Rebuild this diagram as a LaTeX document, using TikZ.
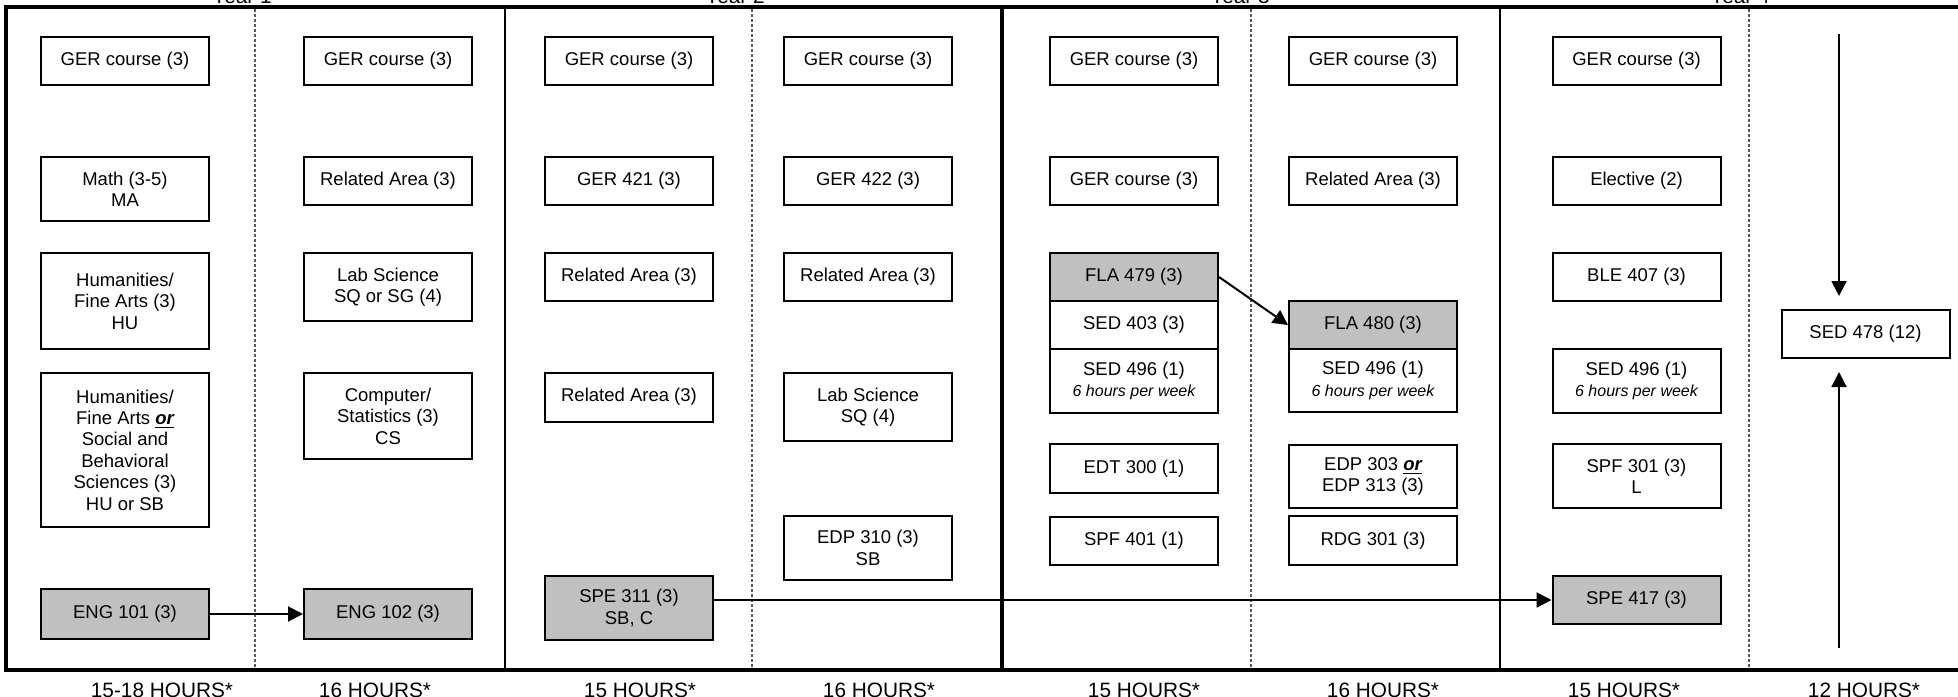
\documentclass[tikz,border=0pt]{standalone}
\usepackage{fontspec}
\setmainfont{Liberation Sans}
\usetikzlibrary{arrows.meta}
\definecolor{boxgray}{RGB}{192,192,192}
\definecolor{dashgray}{RGB}{90,90,90}
\begin{document}
\begin{tikzpicture}[x=0.5pt,y=-0.5pt,
  crs/.style={draw,line width=1pt,minimum width=84pt,inner sep=0pt,align=center,
    font=\fontsize{9.25}{10.7}\selectfont,text=black},
  gry/.style={fill=boxgray},
  arr/.style={line width=1pt,-{Triangle[length=7.5pt,width=7.5pt]}},
  frm/.style={line width=2.2pt},
  thinline/.style={line width=1.2pt},
  dsh/.style={draw=dashgray,line width=0.6pt,dash pattern=on 1.5pt off 1pt},
  lbl/.style={font=\fontsize{10.4}{12}\selectfont,anchor=base,inner sep=0pt}]
\useasboundingbox (0,0) rectangle (1958,696);
\clip (0,0) rectangle (1958,696);
\newcommand\ormark{\textbf{\textit{\underline{or}}}}
\newcommand\sixh{\\{\fontsize{8}{9.6}\selectfont\itshape 6 hours per week}}
% frame and dividers
\draw[frm] (1995,7) -- (6,7) -- (6,670) -- (1995,670);
\draw[thinline] (505,7) -- (505,670);
\draw[frm] (1002,7) -- (1002,670);
\draw[thinline] (1500,7) -- (1500,670);
\foreach \xx in {255,752,1251,1749} \draw[dsh] (\xx,9) -- (\xx,668);
% year labels
\node[lbl] (y1) at (242,3.5) {Year 1};
\node[lbl] (y2) at (735,3.5) {Year 2};
\node[lbl] (y3) at (1240,3.5) {Year 3};
\node[lbl] (y4) at (1740,3.5) {Year 4};
% column 1
\node[crs,minimum height=24pt] (ger1) at (125,61) {GER course (3)};
\node[crs,minimum height=32pt] (math) at (125,189) {Math (3-5)\\MA};
\node[crs,minimum height=48pt] (hum1) at (125,301) {Humanities/\\Fine Arts (3)\\HU};
\node[crs,minimum height=77pt] (hum2) at (125,450) {Humanities/\\Fine Arts \ormark\\Social and\\Behavioral\\Sciences (3)\\HU or SB};
\node[crs,gry,minimum height=25pt] (eng101) at (125,614) {ENG 101 (3)};
% column 2
\node[crs,minimum height=24pt] (ger2) at (388,61) {GER course (3)};
\node[crs,minimum height=24pt] (rel2) at (388,181) {Related Area (3)};
\node[crs,minimum height=34pt] (lab2) at (388,287) {Lab Science\\SQ or SG (4)};
\node[crs,minimum height=43pt] (comp) at (388,416) {Computer/\\Statistics (3)\\CS};
\node[crs,gry,minimum height=25pt] (eng102) at (388,614) {ENG 102 (3)};
% column 3
\node[crs,minimum height=24pt] (ger3) at (629,61) {GER course (3)};
\node[crs,minimum height=24pt] (ger421) at (629,181) {GER 421 (3)};
\node[crs,minimum height=24pt] (rel3a) at (629,277) {Related Area (3)};
\node[crs,minimum height=24.5pt] (rel3b) at (629,397) {Related Area (3)};
\node[crs,gry,minimum height=32pt] (spe311) at (629,608) {SPE 311 (3)\\SB, C};
% column 4
\node[crs,minimum height=24pt] (ger4) at (868,61) {GER course (3)};
\node[crs,minimum height=24pt] (ger422) at (868,181) {GER 422 (3)};
\node[crs,minimum height=24pt] (rel4) at (868,277) {Related Area (3)};
\node[crs,minimum height=34pt] (lab4) at (868,407) {Lab Science\\SQ (4)};
\node[crs,minimum height=32pt] (edp310) at (868,548) {EDP 310 (3)\\SB};
% column 5
\node[crs,minimum height=24pt] (ger5a) at (1134,61) {GER course (3)};
\node[crs,minimum height=24pt] (ger5b) at (1134,181) {GER course (3)};
\node[crs,gry,minimum height=24pt] (fla479) at (1134,277) {FLA 479 (3)};
\node[crs,minimum height=24pt] (sed403) at (1134,325) {SED 403 (3)};
\node[crs,minimum height=32pt] (sed496a) at (1134,381) {SED 496 (1)\sixh};
\node[crs,minimum height=24.5pt] (edt300) at (1134,468.5) {EDT 300 (1)};
\node[crs,minimum height=24pt] (spf401) at (1134,541) {SPF 401 (1)};
% column 6
\node[crs,minimum height=24pt] (ger6) at (1373,61) {GER course (3)};
\node[crs,minimum height=24pt] (rel6) at (1373,181) {Related Area (3)};
\node[crs,gry,minimum height=24pt] (fla480) at (1373,325) {FLA 480 (3)};
\node[crs,minimum height=31.5pt] (sed496b) at (1373,380.5) {SED 496 (1)\sixh};
\node[crs,minimum height=31.5pt] (edp303) at (1373,476.5) {EDP 303 \ormark\\EDP 313 (3)};
\node[crs,minimum height=24.5pt] (rdg301) at (1373,540.5) {RDG 301 (3)};
% column 7
\node[crs,minimum height=24pt] (ger7) at (1636.5,61) {GER course (3)};
\node[crs,minimum height=24pt] (elective) at (1636.5,181) {Elective (2)};
\node[crs,minimum height=24pt] (ble407) at (1636.5,277) {BLE 407 (3)};
\node[crs,minimum height=32pt] (sed496c) at (1636.5,381) {SED 496 (1)\sixh};
\node[crs,minimum height=32pt] (spf301) at (1636.5,476) {SPF 301 (3)\\L};
\node[crs,gry,minimum height=24pt] (spe417) at (1636.5,600) {SPE 417 (3)};
% column 8
\node[crs,minimum height=24pt] (sed478) at (1865.5,334) {SED 478 (12)};
\coordinate (c478top) at (1839,34);
\coordinate (c478bot) at (1839,648);
% connectors
\draw[arr] (eng101.east) -- (eng102.west);
\draw[arr] (fla479.east) -- (fla480.west);
\draw[arr] (spe311.east |- spe417.west) -- (spe417.west);
\draw[arr,shorten >=6.5pt] (c478top) -- (c478top |- sed478.north);
\draw[arr,shorten >=6.5pt] (c478bot) -- (c478bot |- sed478.south);
% hour labels
\node[lbl] (h1) at (162,697) {15-18 HOURS*};
\node[lbl] (h2) at (375,697) {16 HOURS*};
\node[lbl] (h3) at (640,697) {15 HOURS*};
\node[lbl] (h4) at (879,697) {16 HOURS*};
\node[lbl] (h5) at (1144,697) {15 HOURS*};
\node[lbl] (h6) at (1383,697) {16 HOURS*};
\node[lbl] (h7) at (1624,697) {15 HOURS*};
\node[lbl] (h8) at (1864,697) {12 HOURS*};
\end{tikzpicture}
\end{document}
